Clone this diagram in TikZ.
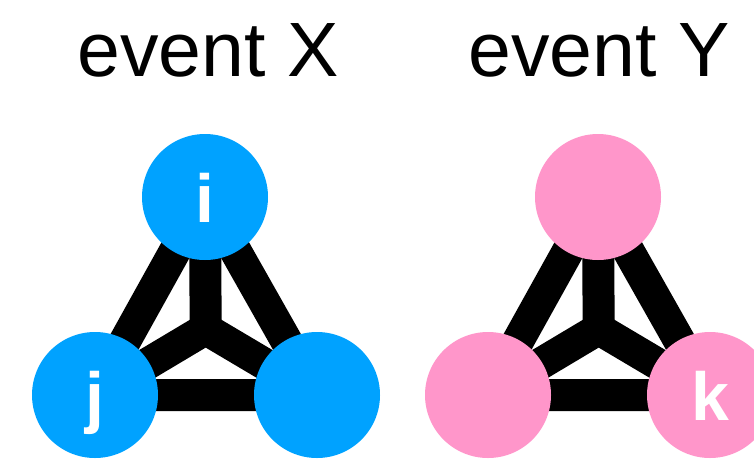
\documentclass[tikz,border=0pt]{standalone}
\usepackage{fontspec}
\setmainfont{Liberation Sans}
\usetikzlibrary{backgrounds}

\definecolor{eventblue}{RGB}{0,162,255}
\definecolor{eventpink}{RGB}{255,150,202}

\begin{document}
\begin{tikzpicture}[
    x=1pt, y=-1pt,
    vertex/.style={circle, inner sep=0pt, minimum size=126pt, text=white,
        text height=50pt, text depth=0pt,
        font=\fontsize{68}{68}\selectfont\bfseries},
    title/.style={anchor=base, font=\fontsize{77}{77}\selectfont},
    link/.style={line width=32pt, black, miter limit=10}
]
    \clip (0,0) rectangle (754,458);

    % 1. Titles
    \node[title] (titleX) at (208,76) {event X};
    \node[title] (titleY) at (599,76) {event Y};

    % 2. Vertices of event X
    \node[vertex, fill=eventblue] (XT) at (205,197) {i};
    \node[vertex, fill=eventblue] (XL) at (95,395) {j};
    \node[vertex, fill=eventblue] (XR) at (317,395) {};
    \coordinate (XC) at (barycentric cs:XT=1,XL=1,XR=1);

    % 3. Vertices of event Y
    \node[vertex, fill=eventpink] (YT) at (598,197) {};
    \node[vertex, fill=eventpink] (YL) at (488,395) {};
    \node[vertex, fill=eventpink] (YR) at (710,395) {k};
    \coordinate (YC) at (barycentric cs:YT=1,YL=1,YR=1);

    % 4. Edges behind the circles
    \begin{scope}[on background layer]
        \draw[link] (XT.center) -- (XL.center) -- (XR.center) -- cycle;
        \draw[link] (XL.center) -- (XC) -- (XR.center);
        \draw[link] (XT.center) -- (XC);

        \draw[link] (YT.center) -- (YL.center) -- (YR.center) -- cycle;
        \draw[link] (YL.center) -- (YC) -- (YR.center);
        \draw[link] (YT.center) -- (YC);
    \end{scope}

\end{tikzpicture}
\end{document}
